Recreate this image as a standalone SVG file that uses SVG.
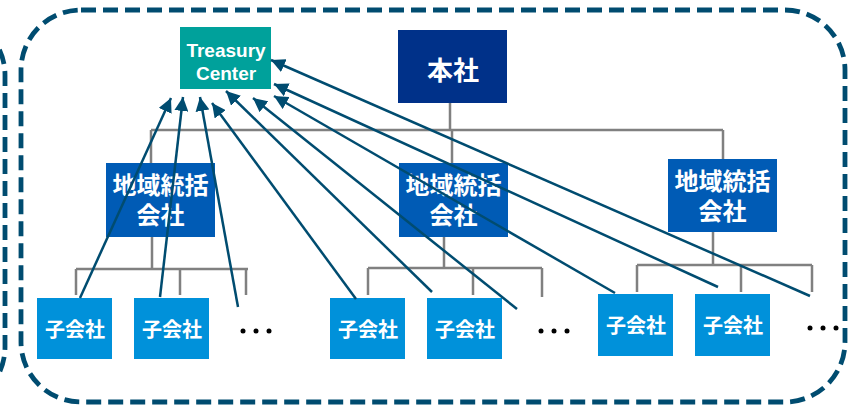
<svg xmlns="http://www.w3.org/2000/svg" width="851" height="407" viewBox="0 0 851 407">
<defs>
<style>
.frame{fill:none;stroke:#004C70;stroke-width:4.8;stroke-dasharray:15 7}
.tree{fill:none;stroke:#808080;stroke-width:2.5}
.arrow{stroke:#004C70;stroke-width:2.5;fill:none;marker-end:url(#ah)}
.tc{fill:#00A19B}
.hq{fill:#003189}
.rg{fill:#005BB5}
.sub{fill:#0091DA}
.t{fill:#fff;font-weight:bold;text-anchor:middle}
.en{font-family:"Liberation Sans",Arial,sans-serif;font-size:19px}
.jp{font-family:"Noto Sans CJK JP","Noto Sans CJK SC",sans-serif}
.dot{fill:#000}
</style>
<marker id="ah" markerUnits="userSpaceOnUse" markerWidth="15" markerHeight="14" refX="14" refY="7" orient="auto">
<path d="M0,0 L14,7 L0,14 z" fill="#004C70"/>
</marker>
</defs>
<rect width="851" height="407" fill="#fff"/>
<g id="frames">
<rect class="frame" x="-795" y="15" width="800" height="392" rx="60" ry="60"/>
<rect class="frame" x="21" y="10" width="824" height="392" rx="60" ry="60"/>
</g>
<g id="tree-lines">
<path class="tree" d="M450,103 V130 M151,130 H723 M151,130 V163 M452,130 V163 M723,130 V159"/>
<path class="tree" d="M152,237 V269 M76,269 H248 M76,269 V295 M180,269 V295 M246,269 V295"/>
<path class="tree" d="M444,237 V268 M368,268 H542 M368,268 V295 M473,268 V295 M542,268 V297"/>
<path class="tree" d="M713,232 V265 M637,265 H812 M637,265 V292 M741,265 V292 M812,265 V292"/>
</g>
<g id="treasury">
<rect class="tc" x="180" y="27" width="91" height="62"/>
<text class="t en" x="226" y="57">Treasury</text>
<text class="t en" x="226" y="80">Center</text>
</g>
<g id="honsha">
<rect class="hq" x="398" y="30" width="109" height="73"/>
<text class="t jp" x="453" y="80" font-size="26">本社</text>
</g>
<g id="regional-1">
<rect class="rg" x="106" y="163" width="109" height="74"/>
<text class="t jp" x="160.5" y="194" font-size="24">地域統括</text>
<text class="t jp" x="160.5" y="224" font-size="24">会社</text>
</g>
<g id="regional-2">
<rect class="rg" x="399" y="163" width="109" height="74"/>
<text class="t jp" x="453.5" y="194" font-size="24">地域統括</text>
<text class="t jp" x="453.5" y="224" font-size="24">会社</text>
</g>
<g id="regional-3">
<rect class="rg" x="668" y="159" width="109" height="73"/>
<text class="t jp" x="722.5" y="190" font-size="24">地域統括</text>
<text class="t jp" x="722.5" y="220" font-size="24">会社</text>
</g>
<g id="sub-1-1">
<rect class="sub" x="37" y="298" width="75" height="61"/>
<text class="t jp" x="75" y="337" font-size="20">子会社</text>
</g>
<g id="sub-1-2">
<rect class="sub" x="134" y="298" width="75" height="61"/>
<text class="t jp" x="172" y="337" font-size="20">子会社</text>
</g>
<g id="more-1">
<circle class="dot" cx="243" cy="331" r="2.5"/><circle class="dot" cx="256" cy="331" r="2.5"/><circle class="dot" cx="269" cy="331" r="2.5"/>
</g>
<g id="sub-2-1">
<rect class="sub" x="330" y="298" width="75" height="61"/>
<text class="t jp" x="368" y="337" font-size="20">子会社</text>
</g>
<g id="sub-2-2">
<rect class="sub" x="427" y="298" width="75" height="61"/>
<text class="t jp" x="465" y="337" font-size="20">子会社</text>
</g>
<g id="more-2">
<circle class="dot" cx="541" cy="331" r="2.5"/><circle class="dot" cx="554" cy="331" r="2.5"/><circle class="dot" cx="567" cy="331" r="2.5"/>
</g>
<g id="sub-3-1">
<rect class="sub" x="598" y="294" width="75" height="62"/>
<text class="t jp" x="636" y="333" font-size="20">子会社</text>
</g>
<g id="sub-3-2">
<rect class="sub" x="695" y="294" width="75" height="62"/>
<text class="t jp" x="733" y="333" font-size="20">子会社</text>
</g>
<g id="more-3">
<circle class="dot" cx="810" cy="328" r="2.5"/><circle class="dot" cx="823" cy="328" r="2.5"/><circle class="dot" cx="836" cy="328" r="2.5"/>
</g>
<g id="connectors">
<line class="arrow" x1="80" y1="298" x2="171" y2="98"/>
<line class="arrow" x1="160" y1="297" x2="183" y2="97"/>
<line class="arrow" x1="238" y1="307" x2="200" y2="97"/>
<line class="arrow" x1="356" y1="299" x2="212" y2="103"/>
<line class="arrow" x1="432" y1="292" x2="226" y2="91"/>
<line class="arrow" x1="517" y1="309" x2="253" y2="98"/>
<line class="arrow" x1="615" y1="293" x2="274" y2="96"/>
<line class="arrow" x1="718" y1="287" x2="274" y2="84"/>
<line class="arrow" x1="810" y1="296" x2="271" y2="60"/>
</g>
</svg>
